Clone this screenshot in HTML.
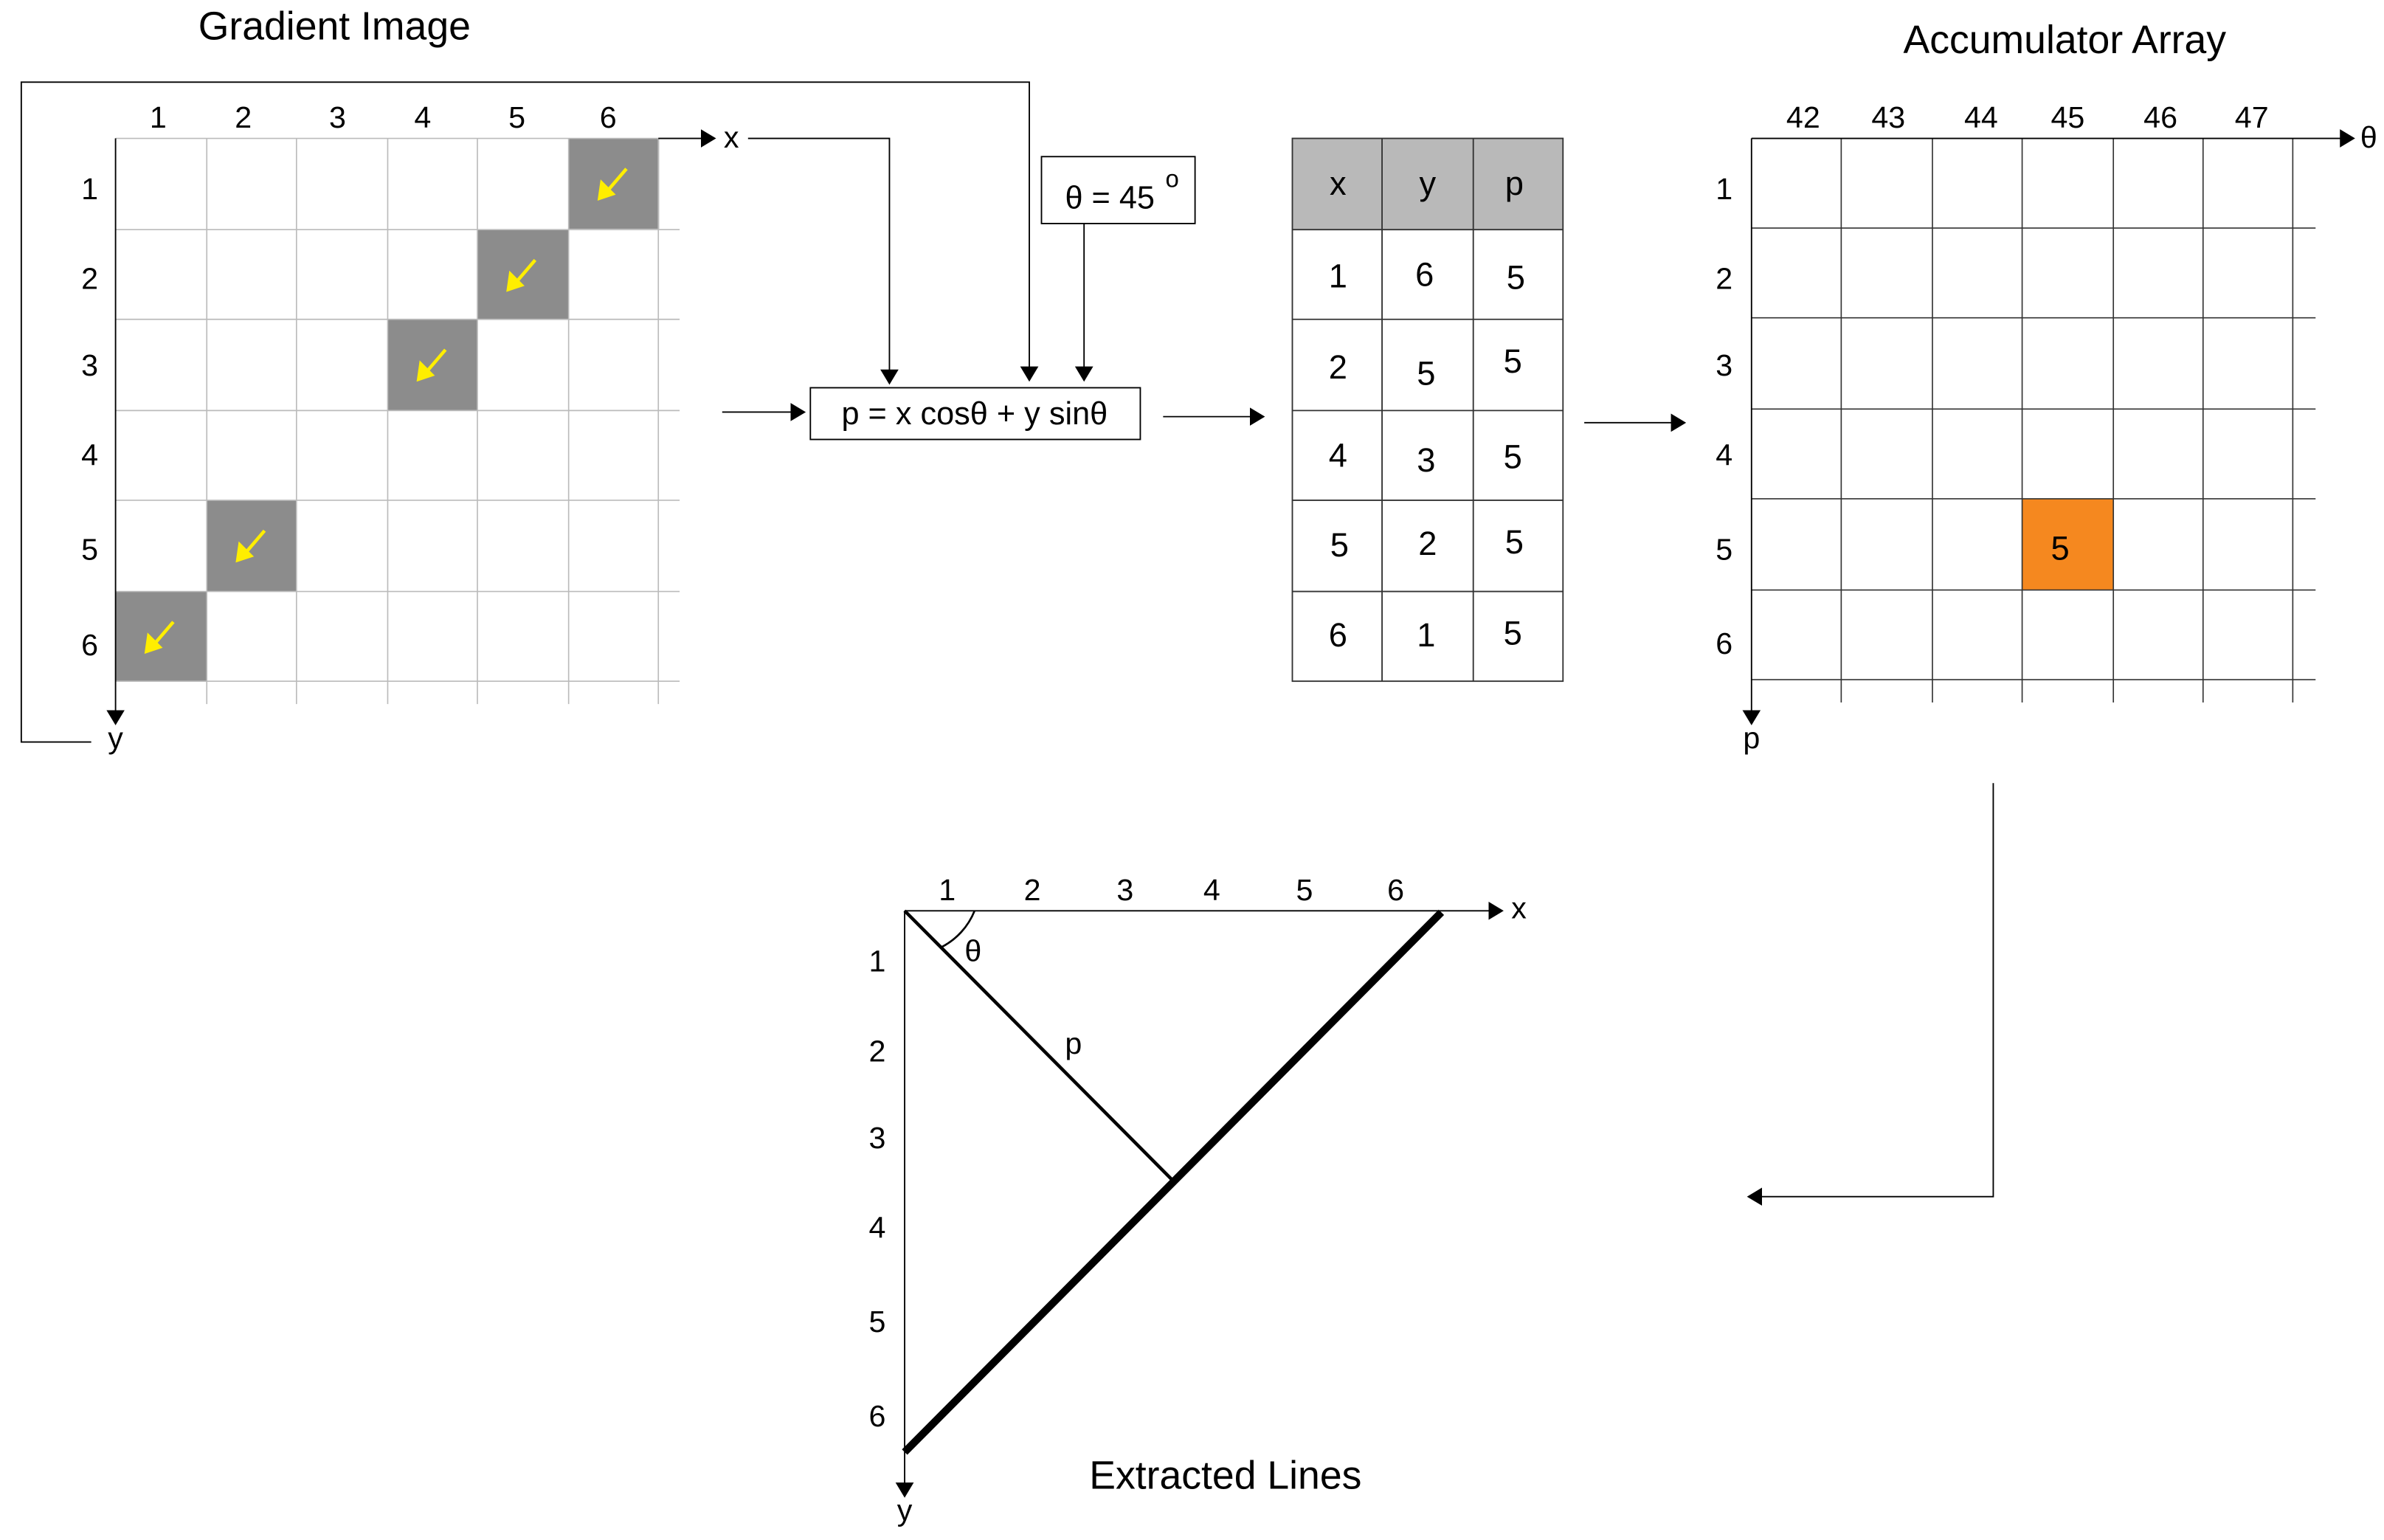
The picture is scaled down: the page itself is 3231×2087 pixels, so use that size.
<!DOCTYPE html>
<html><head><meta charset="utf-8"><style>html,body{margin:0;padding:0;background:#fff}svg{display:block}</style></head>
<body>
<svg xmlns="http://www.w3.org/2000/svg" width="3231" height="2087" viewBox="0 0 1568 1012.8" font-family="'Liberation Sans', sans-serif">
<defs>
<marker id="ah" markerWidth="12" markerHeight="12" refX="9" refY="6" orient="auto" markerUnits="userSpaceOnUse"><path d="M0,0 L10,6 L0,12 Z" fill="#000"/></marker>
<g id="ya"><line x1="38" y1="20" x2="26" y2="34" stroke="#ffee00" stroke-width="2.2"/><path d="M19,41 L21,27 L31,37 Z" fill="#ffee00"/></g>
</defs>
<rect width="1568" height="1013" fill="#fff"/>
<text x="220" y="26" font-size="26" text-anchor="middle">Gradient Image</text>
<text x="1358" y="35" font-size="26" text-anchor="middle">Accumulator Array</text>
<text x="806" y="979" font-size="26" text-anchor="middle">Extracted Lines</text>
<g fill="#8c8c8c"><rect x="374" y="91" width="59.5" height="59.5"/><rect x="314" y="151" width="60" height="59"/><rect x="255" y="210" width="59" height="60"/><rect x="136" y="329" width="59" height="60"/><rect x="76" y="389" width="60" height="59"/></g>
<use href="#ya" x="374" y="91"/><use href="#ya" x="314" y="151"/><use href="#ya" x="255" y="210"/><use href="#ya" x="136" y="329"/><use href="#ya" x="76" y="389"/>
<g stroke="#bbb" stroke-width="0.8">
<line x1="136" y1="91" x2="136" y2="463"/><line x1="195" y1="91" x2="195" y2="463"/><line x1="255" y1="91" x2="255" y2="463"/><line x1="314" y1="91" x2="314" y2="463"/><line x1="374" y1="91" x2="374" y2="463"/><line x1="433" y1="91" x2="433" y2="463"/>
<line x1="76" y1="151" x2="447" y2="151"/><line x1="76" y1="210" x2="447" y2="210"/><line x1="76" y1="270" x2="447" y2="270"/><line x1="76" y1="329" x2="447" y2="329"/><line x1="76" y1="389" x2="447" y2="389"/><line x1="76" y1="448" x2="447" y2="448"/>
<line x1="76" y1="91" x2="433" y2="91"/></g>
<g stroke="#000" stroke-width="0.9" fill="none">
<line x1="76" y1="91" x2="76" y2="476" marker-end="url(#ah)"/>
<line x1="433" y1="91" x2="470" y2="91" marker-end="url(#ah)"/>
<polyline points="492,91 585,91 585,252" marker-end="url(#ah)"/>
<polyline points="60,488 14,488 14,54 677,54 677,250" marker-end="url(#ah)"/>
<line x1="713" y1="147" x2="713" y2="250" marker-end="url(#ah)"/>
<line x1="475" y1="271" x2="529" y2="271" marker-end="url(#ah)"/>
<line x1="765" y1="274" x2="831" y2="274" marker-end="url(#ah)"/>
<line x1="1042" y1="278" x2="1108" y2="278" marker-end="url(#ah)"/>
<rect x="533" y="255" width="217" height="34"/>
<rect x="685" y="103" width="101" height="44"/>
<polyline points="1311,515 1311,787 1150,787" marker-end="url(#ah)"/>
</g>
<g font-size="20" text-anchor="middle">
<text x="104" y="84">1</text><text x="160" y="84">2</text><text x="222" y="84">3</text><text x="278" y="84">4</text><text x="340" y="84">5</text><text x="400" y="84">6</text>
<text x="59" y="131">1</text><text x="59" y="190">2</text><text x="59" y="247">3</text><text x="59" y="306">4</text><text x="59" y="368">5</text><text x="59" y="431">6</text>
<text x="481" y="97">x</text><text x="76" y="492">y</text>
</g>
<text x="641" y="279" font-size="21" text-anchor="middle">p = x cosθ + y sinθ</text>
<text x="730" y="137" font-size="21" text-anchor="middle">θ = 45</text><text x="771" y="123" font-size="16" text-anchor="middle">o</text>
<rect x="850" y="91" width="178" height="60" fill="#b9b9b9"/>
<g stroke="#333" stroke-width="0.9" fill="none">
<rect x="850" y="91" width="178" height="357"/>
<line x1="909" y1="91" x2="909" y2="448"/><line x1="969" y1="91" x2="969" y2="448"/>
<line x1="850" y1="151" x2="1028" y2="151"/><line x1="850" y1="210" x2="1028" y2="210"/><line x1="850" y1="270" x2="1028" y2="270"/><line x1="850" y1="329" x2="1028" y2="329"/><line x1="850" y1="389" x2="1028" y2="389"/>
</g>
<g font-size="22" text-anchor="middle">
<text x="880" y="128">x</text><text x="939" y="128">y</text><text x="996" y="128">p</text>
<text x="880" y="189">1</text><text x="937" y="188">6</text><text x="997" y="190">5</text>
<text x="880" y="249">2</text><text x="938" y="253">5</text><text x="995" y="245">5</text>
<text x="880" y="307">4</text><text x="938" y="310">3</text><text x="995" y="308">5</text>
<text x="881" y="366">5</text><text x="939" y="365">2</text><text x="996" y="364">5</text>
<text x="880" y="425">6</text><text x="938" y="425">1</text><text x="995" y="424">5</text>
</g>
<rect x="1330" y="328" width="60" height="60" fill="#f5881f"/>
<g stroke="#333" stroke-width="0.8" fill="none">
<line x1="1211" y1="91" x2="1211" y2="462"/><line x1="1271" y1="91" x2="1271" y2="462"/><line x1="1330" y1="91" x2="1330" y2="462"/><line x1="1390" y1="91" x2="1390" y2="462"/><line x1="1449" y1="91" x2="1449" y2="462"/><line x1="1508" y1="91" x2="1508" y2="462"/>
<line x1="1152" y1="150" x2="1523" y2="150"/><line x1="1152" y1="209" x2="1523" y2="209"/><line x1="1152" y1="269" x2="1523" y2="269"/><line x1="1152" y1="328" x2="1523" y2="328"/><line x1="1152" y1="388" x2="1523" y2="388"/><line x1="1152" y1="447" x2="1523" y2="447"/>
</g>
<g stroke="#000" stroke-width="0.9" fill="none">
<line x1="1152" y1="91" x2="1548" y2="91" marker-end="url(#ah)"/>
<line x1="1152" y1="91" x2="1152" y2="476" marker-end="url(#ah)"/>
</g>
<g font-size="20" text-anchor="middle">
<text x="1186" y="84">42</text><text x="1242" y="84">43</text><text x="1303" y="84">44</text><text x="1360" y="84">45</text><text x="1421" y="84">46</text><text x="1481" y="84">47</text>
<text x="1558" y="97">θ</text>
<text x="1134" y="131">1</text><text x="1134" y="190">2</text><text x="1134" y="247">3</text><text x="1134" y="306">4</text><text x="1134" y="368">5</text><text x="1134" y="430">6</text>
<text x="1152" y="492">p</text><text x="1355" y="368" font-size="22">5</text>
</g>
<g stroke="#000" fill="none">
<line x1="595" y1="599" x2="988" y2="599" stroke-width="0.9" marker-end="url(#ah)"/>
<line x1="595" y1="599" x2="595" y2="984" stroke-width="0.9" marker-end="url(#ah)"/>
<line x1="595" y1="955" x2="948" y2="600" stroke-width="5"/>
<line x1="595" y1="599" x2="772" y2="777" stroke-width="2.2"/>
<path d="M641,599 A46,46 0 0 1 619,623" stroke-width="1.3"/>
</g>
<g font-size="20" text-anchor="middle">
<text x="623" y="592">1</text><text x="679" y="592">2</text><text x="740" y="592">3</text><text x="797" y="592">4</text><text x="858" y="592">5</text><text x="918" y="592">6</text>
<text x="999" y="604">x</text><text x="595" y="1000">y</text>
<text x="577" y="639">1</text><text x="577" y="698">2</text><text x="577" y="755">3</text><text x="577" y="814">4</text><text x="577" y="876">5</text><text x="577" y="938">6</text>
<text x="640" y="632">θ</text><text x="706" y="693">p</text>
</g>
</svg>
</body></html>
